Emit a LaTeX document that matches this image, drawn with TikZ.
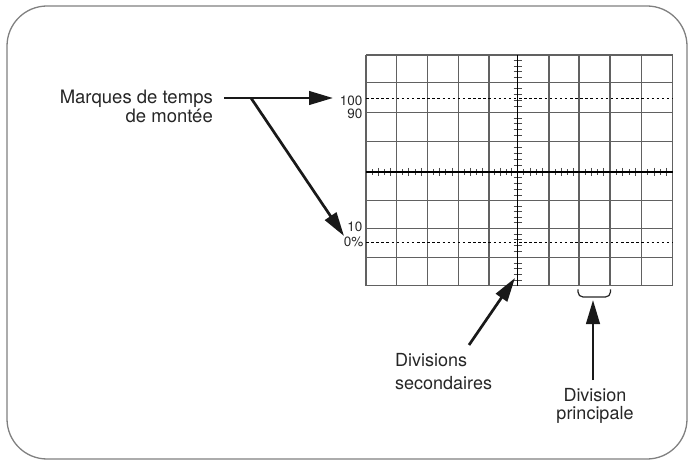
\documentclass[tikz,border=0pt]{standalone}
\usepackage{fontspec}
\setmainfont{TeX Gyre Heros}
\usetikzlibrary{arrows.meta}
\begin{document}
\begin{tikzpicture}[x=1pt,y=-1pt,
  gridl/.style={draw=black!62, line width=1.2pt},
  axisl/.style={draw=black, line width=1.4pt},
  tickl/.style={draw=black!70, line width=0.9pt},
  refl/.style={draw=black, line width=1pt, dash pattern=on 2.5pt off 2.6pt},
  pointer/.style={draw=black!90, line width=2.7pt, -{Triangle[length=24pt,width=13.5pt]}},
  lbl/.style={text=black!85, inner sep=0pt},
  small/.style={font=\fontsize{13.5}{13.5}\selectfont, text=black!85, inner sep=0pt}]

\useasboundingbox (0,0) rectangle (688,462);
\draw[black!50, line width=1.3pt, rounded corners=40pt] (7,6) rectangle (687,459);

% grid
\foreach \x in {366,396.7,427.3,458.3,489,517.5,549,579,610,641.7,672.7}
  \draw[gridl] (\x,55) -- (\x,285.7);
\foreach \y in {55,82.7,112.3,141.3,172,200.7,228.3,257.3,285.7}
  \draw[gridl] (366,\y) -- (672.7,\y);

% ticks on horizontal axis
\foreach \a/\b in {366/396.7,396.7/427.3,427.3/458.3,458.3/489,489/517.5,517.5/549,549/579,579/610,610/641.7,641.7/672.7}{
  \foreach \k/\h in {1/2.6,2/4,3/2.6,4/4}{
    \pgfmathsetmacro\t{\a+(\b-\a)*\k/5}
    \draw[tickl] (\t,172-\h) -- (\t,172+\h);
  }
}
% ticks on vertical axis
\foreach \a/\b in {55/82.7,82.7/112.3,112.3/141.3,141.3/172,172/200.7,200.7/228.3,228.3/257.3,257.3/285.7}{
  \foreach \k in {1,2,3,4}{
    \pgfmathsetmacro\t{\a+(\b-\a)*\k/5}
    \draw[tickl] (513.5,\t) -- (521.5,\t);
  }
}
\draw[axisl] (517.5,55) -- (517.5,285.7);
\draw[axisl] (366,172) -- (672.7,172);

% reference dashed lines
\draw[refl] (366,99) -- (672.7,99);
\draw[refl] (366,242.7) -- (672.7,242.7);

% level labels
\node[small, anchor=base east] (l100) at (362.5,105.5) {100};
\node[small, anchor=base east] (l90) at (362.5,119) {90};
\node[small, anchor=base east] (l10) at (362.5,232) {10};
\node[small, anchor=base east] (l0) at (363.5,246.5) {0\%};

% rise time marks
\node[lbl, font=\fontsize{18.5}{19.5}\selectfont, anchor=north east, align=right] (marq) at (213,89.5) {Marques de temps\\de montée};
\coordinate (mstart) at (224,98);
\coordinate (mfork) at (251,98);
\coordinate (mtipa) at (333,98);
\coordinate (mtipb) at (344,236);
\draw[pointer] (mstart) -- (mtipa);
\draw[pointer] (mfork) -- (mtipb);

% secondary divisions
\node[lbl, font=\fontsize{18}{23}\selectfont, anchor=north west, align=left] (ds) at (395,353) {Divisions\\secondaires};
\coordinate (dsstart) at (469,345);
\coordinate (dstip) at (515,278);
\draw[pointer] (dsstart) -- (dstip);

% main division
\node[lbl, font=\fontsize{18}{18.5}\selectfont, anchor=north, align=center] (dp) at (595,388) {Division\\principale};
\coordinate (dpstart) at (593,380);
\coordinate (dptip) at (593,300);
\draw[pointer] (dpstart) -- (dptip);
\draw[black!85, line width=1.2pt, rounded corners=5pt] (578,289.5) -- (578,297) -- (610.5,297) -- (610.5,289.5);
\end{tikzpicture}
\end{document}
